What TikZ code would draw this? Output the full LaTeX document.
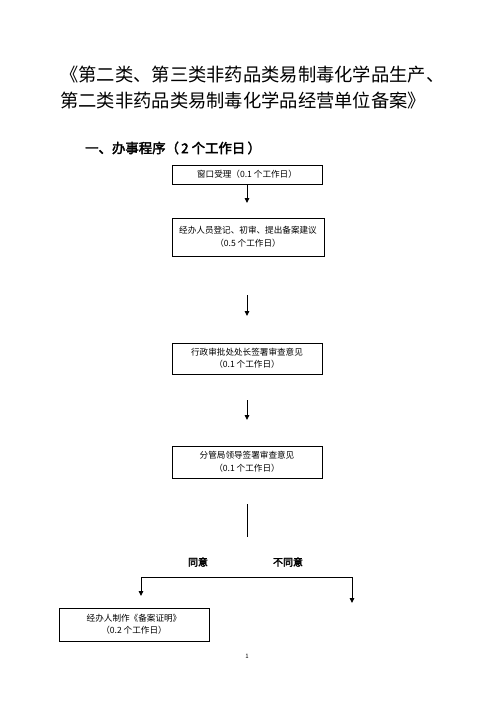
\documentclass[tikz,border=0pt]{standalone}
\usepackage{fontspec}
\setmainfont{Noto Sans CJK SC}
\newfontfamily\cjkb[FakeBold=2.5]{Noto Sans CJK SC}
\usetikzlibrary{arrows.meta}
\begin{document}
\begin{tikzpicture}[x=1pt,y=-1pt,
  box/.style={draw, line width=0.9pt, minimum width=150pt, align=center, inner sep=0pt,
    font=\fontsize{8.6}{12.5}\selectfont},
  arr/.style={-{Triangle[length=5pt,width=4.5pt]}, line width=0.9pt},
  ln/.style={line width=0.9pt},
  title/.style={anchor=west, inner sep=0pt, font=\fontsize{18.3}{20}\selectfont},
  lbl/.style={inner sep=0pt, font=\cjkb\fontsize{10}{12}\selectfont}]
\useasboundingbox (0,0) rectangle (496,702);
\node[title] (t1) at (60,75) {《第二类、第三类非药品类易制毒化学品生产、};
\node[title] (t2) at (60,101) {第二类非药品类易制毒化学品经营单位备案》};
\node[anchor=west, inner sep=0pt, font=\cjkb\fontsize{13.4}{15}\selectfont] (h) at (85,148) {一、办事程序（\,2 个工作日\,）};

\node[box, minimum height=19pt] (b1) at (247,174.5) {窗口受理（0.1 个工作日）};
\node[box, minimum width=152pt, minimum height=38pt] (b2) at (248,237) {经办人员登记、初审、提出备案建议\\（0.5 个工作日）};
\node[box, minimum height=31pt] (b3) at (247,358.5) {行政审批处处长签署审查意见\\（0.1 个工作日）};
\node[box, minimum height=32pt] (b4) at (247,462) {分管局领导签署审查意见\\（0.1 个工作日）};
\node[box, minimum height=33pt] (b5) at (134,624.5) {经办人制作《备案证明》\\（0.2 个工作日）};

\coordinate (a1e) at (247,203);
\coordinate (a2s) at (247,295);
\coordinate (a2e) at (247,316);
\coordinate (a3s) at (247,400);
\coordinate (a3e) at (247,420);
\coordinate (v1) at (247,504);
\coordinate (v2) at (247,537);
\coordinate (hl) at (141,577);
\coordinate (hr) at (352,577);
\coordinate (le) at (141,596);
\coordinate (re) at (352,603);

\draw[arr] (b1.south) -- (a1e);
\draw[arr] (a2s) -- (a2e);
\draw[arr] (a3s) -- (a3e);
\draw[ln] (v1) -- (v2);
\draw[ln] (hl) -- (hr);
\draw[arr] (hl) -- (le);
\draw[arr] (hr) -- (re);

\node[lbl] (y) at (198,562) {同意};
\node[lbl] (n) at (288,562) {不同意};
\node[inner sep=0pt, font=\fontsize{6}{7}\selectfont] (p) at (247,656) {1};
\end{tikzpicture}
\end{document}
